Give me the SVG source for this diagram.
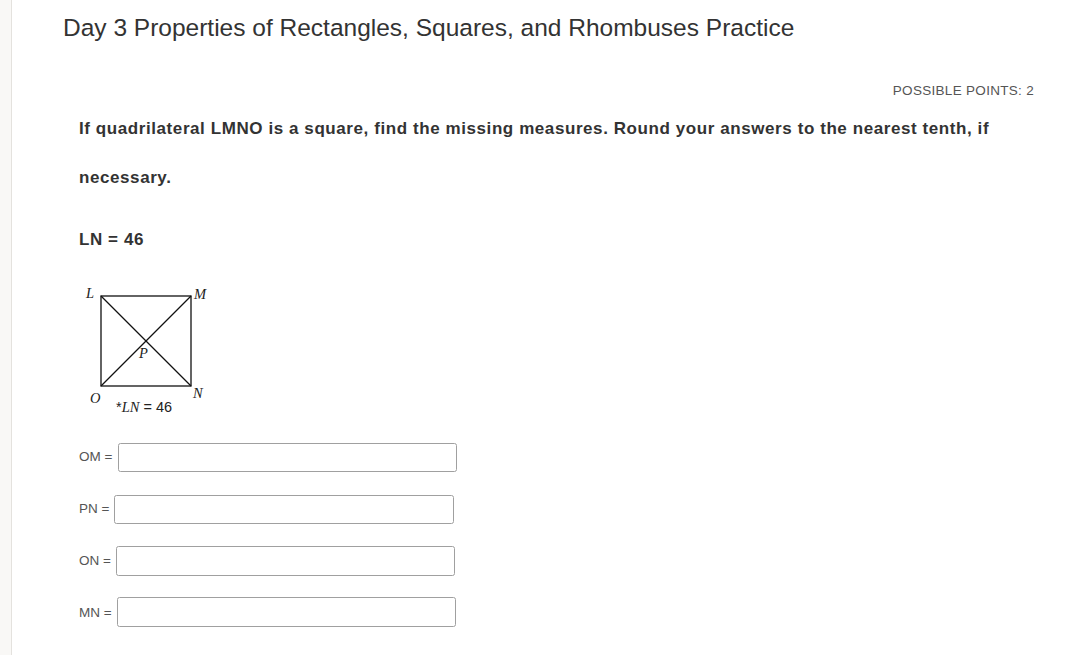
<svg xmlns="http://www.w3.org/2000/svg" width="1089" height="655" viewBox="0 0 1089 655">
<style>
.sans{font-family:"Liberation Sans",Arial,sans-serif}
.title{font-size:24.5px;fill:#333}
.q{font-size:17px;font-weight:bold;fill:#333;letter-spacing:0.58px}
.lbl{font-size:13.5px;fill:#555}
.pt{font-family:"Liberation Serif","Times New Roman",serif;font-style:italic;font-size:14.5px;fill:#222}
.box{fill:#fff;stroke:#a0a0a0;stroke-width:1}
.geo{stroke:#111;stroke-width:1.3;fill:none}
</style>
<rect x="0" y="0" width="1089" height="655" fill="#ffffff"/>
<rect x="0" y="0" width="11" height="655" fill="#f9f8f6"/>
<line x1="11.5" y1="0" x2="11.5" y2="655" stroke="#e4e2de"/>
<g id="header">
<text class="sans title" x="63" y="36">Day 3 Properties of Rectangles, Squares, and Rhombuses Practice</text>
<text class="sans lbl" x="1034" y="95" text-anchor="end" font-size="13" letter-spacing="0.3">POSSIBLE POINTS: 2</text>
</g>
<g id="question">
<text class="sans q" x="79" y="134">If quadrilateral LMNO is a square, find the missing measures. Round your answers to the nearest tenth, if</text>
<text class="sans q" x="79" y="183">necessary.</text>
<text class="sans q" x="79" y="245">LN = 46</text>
</g>
<g id="figure">
<rect class="geo" x="101" y="296" width="90" height="90"/>
<line class="geo" x1="101" y1="296" x2="191" y2="386"/>
<line class="geo" x1="191" y1="296" x2="101" y2="386"/>
<text class="pt" x="86" y="298">L</text>
<text class="pt" x="194" y="299">M</text>
<text class="pt" x="139" y="358">P</text>
<text class="pt" x="90" y="403">O</text>
<text class="pt" x="193" y="398">N</text>
<text x="116" y="412" font-size="14.5" fill="#222"><tspan class="sans">*</tspan><tspan class="pt">LN</tspan><tspan class="sans"> = 46</tspan></text>
</g>
<g id="om">
<text class="sans lbl" x="79" y="461">OM =</text>
<rect class="box" x="118.5" y="443.5" width="338" height="28" rx="2"/>
</g>
<g id="pn">
<text class="sans lbl" x="79" y="513">PN =</text>
<rect class="box" x="114.5" y="495.5" width="339" height="28" rx="2"/>
</g>
<g id="on">
<text class="sans lbl" x="79" y="565">ON =</text>
<rect class="box" x="116.5" y="546.5" width="338" height="29" rx="2"/>
</g>
<g id="mn">
<text class="sans lbl" x="79" y="617">MN =</text>
<rect class="box" x="117.5" y="597.5" width="338" height="29" rx="2"/>
</g>
</svg>
